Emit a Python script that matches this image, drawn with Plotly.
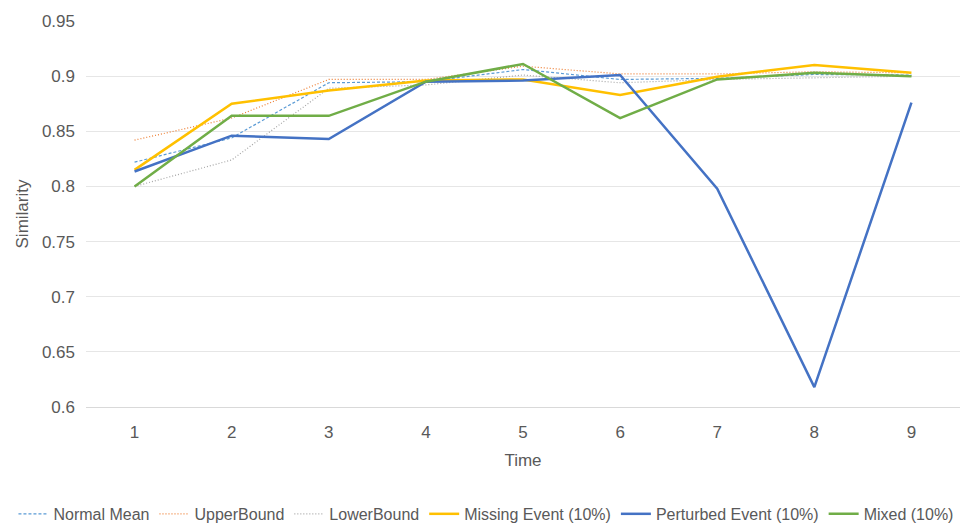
import plotly.graph_objects as go

time = [1, 2, 3, 4, 5, 6, 7, 8, 9]
normal_mean = [0.822, 0.844, 0.894, 0.895, 0.906, 0.897, 0.898, 0.9015, 0.901]
upper_bound = [0.842, 0.862, 0.897, 0.897, 0.909, 0.902, 0.902, 0.904, 0.903]
lower_bound = [0.800, 0.824, 0.889, 0.892, 0.901, 0.894, 0.897, 0.8985, 0.900]
missing_event = [0.815, 0.875, 0.887, 0.896, 0.897, 0.883, 0.8995, 0.910, 0.903]
perturbed_event = [0.8135, 0.846, 0.843, 0.895, 0.896, 0.901, 0.798, 0.618, 0.876]
mixed = [0.800, 0.864, 0.864, 0.895, 0.911, 0.862, 0.897, 0.903, 0.900]
y_ticks = [0.6, 0.65, 0.7, 0.75, 0.8, 0.85, 0.9, 0.95]
y_tick_labels = ["0.6", "0.65", "0.7", "0.75", "0.8", "0.85", "0.9", "0.95"]

series = [
    ("Normal Mean", normal_mean, "#5B9BD5", "3px,2px", 1.2),
    ("UpperBound", upper_bound, "#ED7D31", "1px,2px", 1.2),
    ("LowerBound", lower_bound, "#A5A5A5", "1px,2px", 1.2),
    ("Missing Event (10%)", missing_event, "#FFC000", "solid", 2.5),
    ("Perturbed Event (10%)", perturbed_event, "#4472C4", "solid", 2.5),
    ("Mixed (10%)", mixed, "#70AD47", "solid", 2.5),
]

fig = go.Figure()
for name, vals, color, dash, width in series:
    fig.add_trace(go.Scatter(x=time, y=vals, name=name, mode="lines",
                             line=dict(color=color, dash=dash, width=width)))

font_family = "Liberation Sans, Arial, sans-serif"
fig.update_layout(
    width=964, height=524,
    paper_bgcolor="white", plot_bgcolor="white",
    margin=dict(l=86, r=4, t=21, b=117, autoexpand=False),
    font=dict(family=font_family, size=17, color="#595959"),
    showlegend=True,
    legend=dict(orientation="h", x=-0.083, xanchor="left", xref="paper",
                y=-0.277, yanchor="middle", yref="paper",
                font=dict(size=16, color="#595959"), itemwidth=30,
                tracegroupgap=0),
    xaxis=dict(range=[0.5, 9.5], tickmode="array", tickvals=time,
               ticktext=[str(t) for t in time], showgrid=False,
               showline=True, linecolor="#D9D9D9", linewidth=1,
               ticks="", ticklabelstandoff=10, zeroline=False,
               title=dict(text="Time", standoff=12, font=dict(size=17))),
    yaxis=dict(range=[0.6, 0.95], tickmode="array", tickvals=y_ticks,
               ticktext=y_tick_labels, showgrid=True,
               gridcolor="#E6E6E6", gridwidth=1, zeroline=False,
               showline=False, ticks="", ticklabelstandoff=10,
               title=dict(text="Similarity", standoff=8, font=dict(size=17))),
)

fig.write_html("out.html", config={"displayModeBar": False},
               post_script="document.body.style.margin='0';")
